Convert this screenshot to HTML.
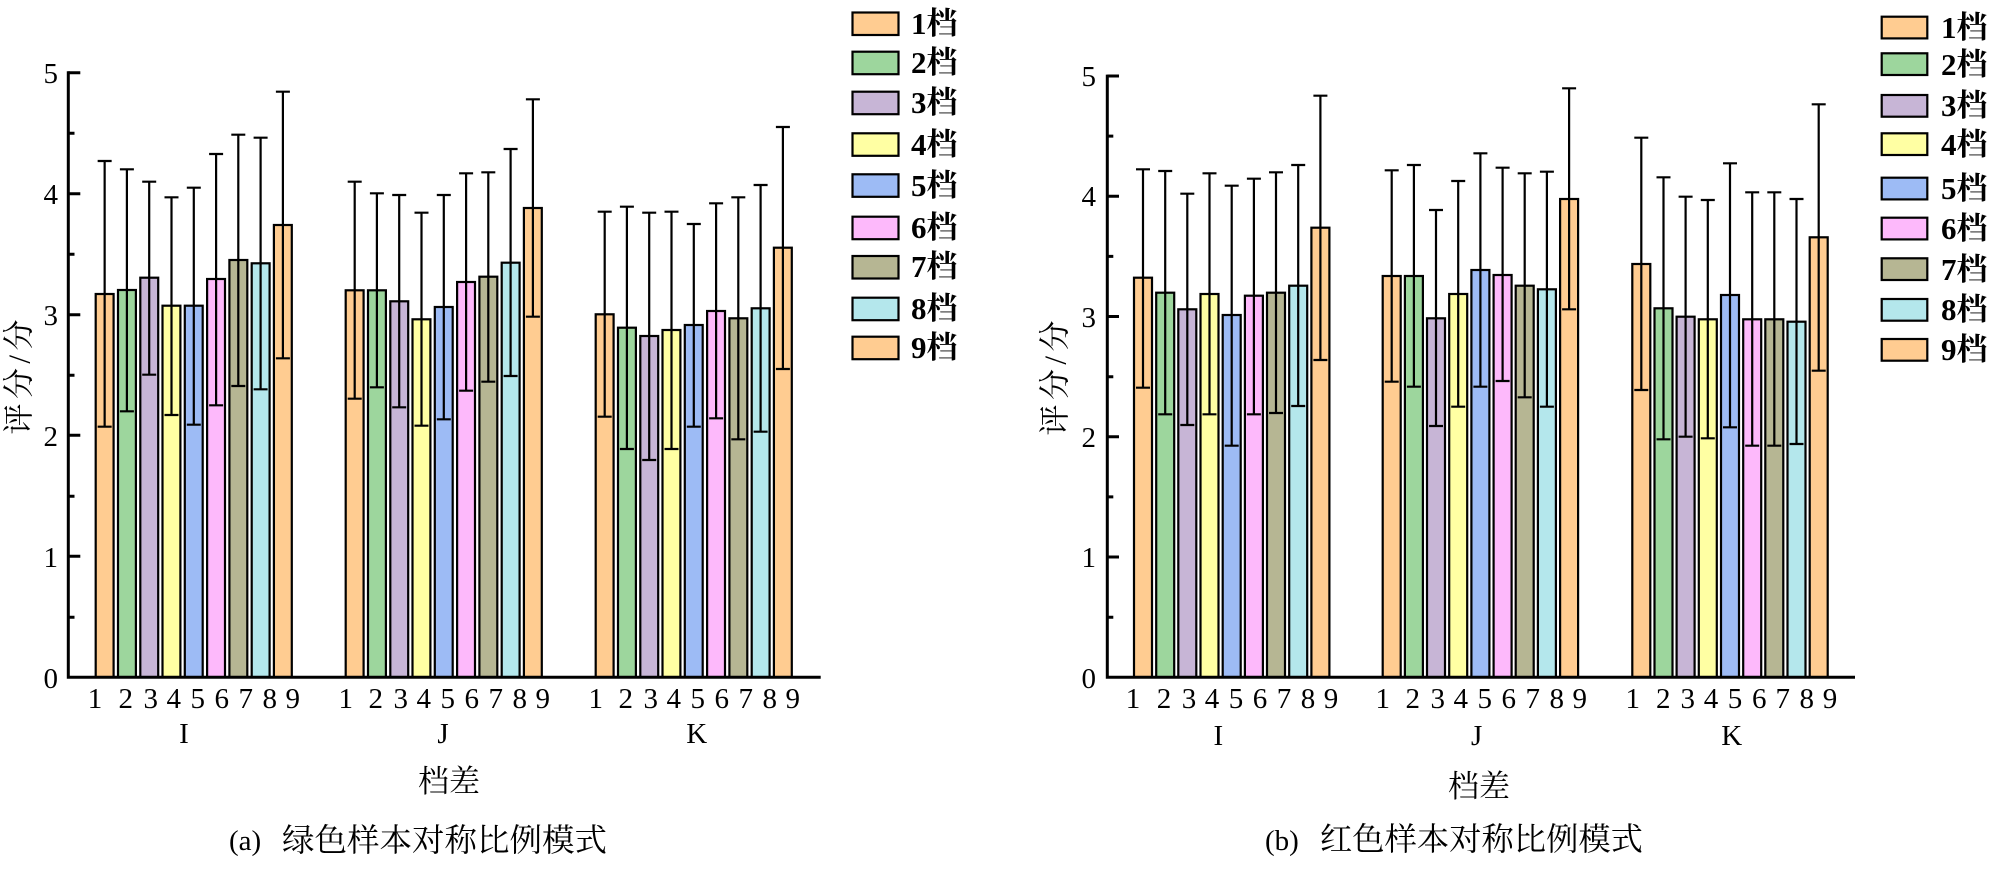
<!DOCTYPE html>
<html><head><meta charset="utf-8"><style>
html,body{margin:0;padding:0;background:#fff;}
svg{display:block;}
.n{font-family:"Liberation Serif","Noto Serif CJK SC",serif;font-size:29px;fill:#000;}
.c{font-family:"Liberation Serif","Noto Serif CJK SC",serif;fill:#000;}
.lg{font-family:"Liberation Serif","Noto Serif CJK SC",serif;font-size:31px;font-weight:bold;fill:#000;}
</style></head><body>
<svg width="2000" height="872" viewBox="0 0 2000 872" xmlns="http://www.w3.org/2000/svg">
<rect width="2000" height="872" fill="#fff"/>
<defs>
<style>
.b{stroke:#000;stroke-width:2.2;}
.e{stroke:#000;stroke-width:2.2;fill:none;}
.c1{fill:#FFCC91}.c2{fill:#9DD69D}.c3{fill:#C7B5D6}.c4{fill:#FFFFA3}.c5{fill:#9DBBF5}.c6{fill:#FDB9FB}.c7{fill:#B6B693}.c8{fill:#B4E7EC}.c9{fill:#FFCC91}
</style>
</defs>

<!-- ============ LEFT CHART ============ -->
<rect class="b c1" x="95.7" y="294" width="17.9" height="383.3"/>
<rect class="b c2" x="118.0" y="290" width="17.9" height="387.3"/>
<rect class="b c3" x="140.3" y="277.7" width="17.9" height="399.6"/>
<rect class="b c4" x="162.5" y="305.7" width="17.9" height="371.6"/>
<rect class="b c5" x="184.8" y="305.7" width="17.9" height="371.6"/>
<rect class="b c6" x="207.1" y="279" width="17.9" height="398.3"/>
<rect class="b c7" x="229.4" y="260" width="17.9" height="417.3"/>
<rect class="b c8" x="251.7" y="263.3" width="17.9" height="414"/>
<rect class="b c9" x="273.9" y="225" width="17.9" height="452.3"/>
<rect class="b c1" x="345.7" y="290.3" width="17.9" height="387"/>
<rect class="b c2" x="368.0" y="290.3" width="17.9" height="387"/>
<rect class="b c3" x="390.3" y="301.3" width="17.9" height="376"/>
<rect class="b c4" x="412.5" y="319.3" width="17.9" height="358"/>
<rect class="b c5" x="434.8" y="307" width="17.9" height="370.3"/>
<rect class="b c6" x="457.1" y="282" width="17.9" height="395.3"/>
<rect class="b c7" x="479.4" y="276.7" width="17.9" height="400.6"/>
<rect class="b c8" x="501.7" y="262.7" width="17.9" height="414.6"/>
<rect class="b c9" x="523.9" y="208" width="17.9" height="469.3"/>
<rect class="b c1" x="595.7" y="314.3" width="17.9" height="363"/>
<rect class="b c2" x="618.0" y="327.7" width="17.9" height="349.6"/>
<rect class="b c3" x="640.3" y="336" width="17.9" height="341.3"/>
<rect class="b c4" x="662.5" y="330" width="17.9" height="347.3"/>
<rect class="b c5" x="684.8" y="325" width="17.9" height="352.3"/>
<rect class="b c6" x="707.1" y="311" width="17.9" height="366.3"/>
<rect class="b c7" x="729.4" y="318.3" width="17.9" height="359"/>
<rect class="b c8" x="751.7" y="308.3" width="17.9" height="369"/>
<rect class="b c9" x="773.9" y="247.7" width="17.9" height="429.6"/>

<path class="e" d="
M97.65 161 H111.65 M104.65 161 V426.7 M97.65 426.7 H111.65
M119.9 169.3 H133.9 M126.9 169.3 V411.3 M119.9 411.3 H133.9
M142.2 181.7 H156.2 M149.2 181.7 V374.7 M142.2 374.7 H156.2
M164.5 197.3 H178.5 M171.5 197.3 V415 M164.5 415 H178.5
M186.8 187.7 H200.8 M193.8 187.7 V424.7 M186.8 424.7 H200.8
M209.1 154 H223.1 M216.1 154 V405.3 M209.1 405.3 H223.1
M231.3 134.7 H245.3 M238.3 134.7 V386 M231.3 386 H245.3
M253.6 137.7 H267.6 M260.6 137.7 V389.3 M253.6 389.3 H267.6
M275.9 91.7 H289.9 M282.9 91.7 V358.3 M275.9 358.3 H289.9
M347.7 181.7 H361.7 M354.7 181.7 V398.7 M347.7 398.7 H361.7
M369.9 193.3 H383.9 M376.9 193.3 V387.3 M369.9 387.3 H383.9
M392.2 195 H406.2 M399.2 195 V407.3 M392.2 407.3 H406.2
M414.5 212.7 H428.5 M421.5 212.7 V425.7 M414.5 425.7 H428.5
M436.8 195 H450.8 M443.8 195 V419.3 M436.8 419.3 H450.8
M459.1 173.3 H473.1 M466.1 173.3 V390.7 M459.1 390.7 H473.1
M481.3 172.3 H495.3 M488.3 172.3 V381.7 M481.3 381.7 H495.3
M503.6 149 H517.6 M510.6 149 V376 M503.6 376 H517.6
M525.9 99.3 H539.9 M532.9 99.3 V316.7 M525.9 316.7 H539.9
M597.7 211.7 H611.7 M604.7 211.7 V416.7 M597.7 416.7 H611.7
M619.9 206.7 H633.9 M626.9 206.7 V449 M619.9 449 H633.9
M642.2 212.7 H656.2 M649.2 212.7 V460 M642.2 460 H656.2
M664.5 211.7 H678.5 M671.5 211.7 V449 M664.5 449 H678.5
M686.8 224 H700.8 M693.8 224 V426.7 M686.8 426.7 H700.8
M709.1 203.3 H723.1 M716.1 203.3 V418.3 M709.1 418.3 H723.1
M731.3 197.3 H745.3 M738.3 197.3 V439.3 M731.3 439.3 H745.3
M753.6 185 H767.6 M760.6 185 V431.7 M753.6 431.7 H767.6
M775.9 127 H789.9 M782.9 127 V369 M775.9 369 H789.9
"/>

<path d="M68.3 71.3 V677.3 H820.7" stroke="#000" stroke-width="3" fill="none"/>
<path d="M68.3 72.7 H80.3 M68.3 193.7 H80.3 M68.3 314.7 H80.3 M68.3 435.3 H80.3 M68.3 556.3 H80.3
M68.3 133.2 H74.5 M68.3 254.2 H74.5 M68.3 375.2 H74.5 M68.3 496.2 H74.5 M68.3 617.2 H74.5" stroke="#000" stroke-width="3" fill="none"/>
<g class="n" text-anchor="end">
<text x="58" y="83">5</text>
<text x="58" y="204">4</text>
<text x="58" y="325">3</text>
<text x="58" y="446">2</text>
<text x="58" y="567">1</text>
<text x="58" y="688">0</text>
</g>
<g class="n" text-anchor="middle">
<text x="95" y="708">1</text><text x="125.7" y="708">2</text><text x="150.7" y="708">3</text><text x="173.7" y="708">4</text><text x="197.7" y="708">5</text><text x="221.7" y="708">6</text><text x="245.7" y="708">7</text><text x="269.7" y="708">8</text><text x="292.7" y="708">9</text>
<text x="345.7" y="708">1</text><text x="375.7" y="708">2</text><text x="400.7" y="708">3</text><text x="423.7" y="708">4</text><text x="447.7" y="708">5</text><text x="471.7" y="708">6</text><text x="495.7" y="708">7</text><text x="519.7" y="708">8</text><text x="542.7" y="708">9</text>
<text x="595.7" y="708">1</text><text x="625.7" y="708">2</text><text x="650.7" y="708">3</text><text x="673.7" y="708">4</text><text x="697.7" y="708">5</text><text x="721.7" y="708">6</text><text x="745.7" y="708">7</text><text x="769.7" y="708">8</text><text x="792.7" y="708">9</text>
<text x="184" y="743">I</text>
<text x="443" y="743">J</text>
<text x="696.7" y="743">K</text>
</g>
<text class="c" x="449" y="792" font-size="31" text-anchor="middle">档差</text>
<text class="c" transform="translate(19,377) rotate(-90)" font-size="31" text-anchor="middle" dominant-baseline="central" textLength="115" lengthAdjust="spacing">评分/分</text>
<text class="c" x="229" y="850" font-size="29">(a)</text>
<text class="c" x="282" y="851" font-size="32" textLength="325" lengthAdjust="spacingAndGlyphs">绿色样本对称比例模式</text>

<rect class="b c1" x="852.5" y="12.5" width="46" height="22.5"/>
<rect class="b c2" x="852.5" y="51.7" width="46" height="22.5"/>
<rect class="b c3" x="852.5" y="91.7" width="46" height="22.5"/>
<rect class="b c4" x="852.5" y="133.3" width="46" height="22.5"/>
<rect class="b c5" x="852.5" y="174.3" width="46" height="22.5"/>
<rect class="b c6" x="852.5" y="216.7" width="46" height="22.5"/>
<rect class="b c7" x="852.5" y="256" width="46" height="22.5"/>
<rect class="b c8" x="852.5" y="297.7" width="46" height="22.5"/>
<rect class="b c9" x="852.5" y="336.7" width="46" height="22.5"/>
<g class="lg">
<text x="911" y="34">1档</text>
<text x="911" y="73">2档</text>
<text x="911" y="113">3档</text>
<text x="911" y="155">4档</text>
<text x="911" y="196">5档</text>
<text x="911" y="238">6档</text>
<text x="911" y="277">7档</text>
<text x="911" y="319">8档</text>
<text x="911" y="358">9档</text>
</g>

<!-- ============ RIGHT CHART ============ -->
<rect class="b c1" x="1134" y="277.7" width="18" height="399.6"/>
<rect class="b c2" x="1156.2" y="292.7" width="18" height="384.6"/>
<rect class="b c3" x="1178.3" y="309.3" width="18" height="368"/>
<rect class="b c4" x="1200.5" y="294" width="18" height="383.3"/>
<rect class="b c5" x="1222.7" y="315" width="18" height="362.3"/>
<rect class="b c6" x="1244.9" y="295.7" width="18" height="381.6"/>
<rect class="b c7" x="1267.0" y="292.7" width="18" height="384.6"/>
<rect class="b c8" x="1289.2" y="285.7" width="18" height="391.6"/>
<rect class="b c9" x="1311.4" y="227.7" width="18" height="449.6"/>
<rect class="b c1" x="1382.7" y="276" width="18" height="401.3"/>
<rect class="b c2" x="1404.9" y="276" width="18" height="401.3"/>
<rect class="b c3" x="1427.0" y="318.3" width="18" height="359"/>
<rect class="b c4" x="1449.2" y="294" width="18" height="383.3"/>
<rect class="b c5" x="1471.4" y="270" width="18" height="407.3"/>
<rect class="b c6" x="1493.6" y="275" width="18" height="402.3"/>
<rect class="b c7" x="1515.7" y="285.7" width="18" height="391.6"/>
<rect class="b c8" x="1537.9" y="289.3" width="18" height="388"/>
<rect class="b c9" x="1560.1" y="199" width="18" height="478.3"/>
<rect class="b c1" x="1632.3" y="264" width="18" height="413.3"/>
<rect class="b c2" x="1654.5" y="308.3" width="18" height="369"/>
<rect class="b c3" x="1676.6" y="316.7" width="18" height="360.6"/>
<rect class="b c4" x="1698.8" y="319.3" width="18" height="358"/>
<rect class="b c5" x="1721.0" y="295" width="18" height="382.3"/>
<rect class="b c6" x="1743.2" y="319.3" width="18" height="358"/>
<rect class="b c7" x="1765.3" y="319.3" width="18" height="358"/>
<rect class="b c8" x="1787.5" y="321.7" width="18" height="355.6"/>
<rect class="b c9" x="1809.7" y="237.3" width="18" height="440"/>

<path class="e" d="
M1136 169.3 H1150 M1143 169.3 V387.7 M1136 387.7 H1150
M1158.2 171 H1172.2 M1165.2 171 V414.3 M1158.2 414.3 H1172.2
M1180.3 193.7 H1194.3 M1187.3 193.7 V425 M1180.3 425 H1194.3
M1202.5 173.3 H1216.5 M1209.5 173.3 V414.3 M1202.5 414.3 H1216.5
M1224.7 185.7 H1238.7 M1231.7 185.7 V445.7 M1224.7 445.7 H1238.7
M1246.9 178.7 H1260.9 M1253.9 178.7 V414.3 M1246.9 414.3 H1260.9
M1269 172.3 H1283 M1276 172.3 V413 M1269 413 H1283
M1291.2 165 H1305.2 M1298.2 165 V406 M1291.2 406 H1305.2
M1313.4 95.7 H1327.4 M1320.4 95.7 V360 M1313.4 360 H1327.4
M1384.7 170.3 H1398.7 M1391.7 170.3 V381.7 M1384.7 381.7 H1398.7
M1406.9 165 H1420.9 M1413.9 165 V386.7 M1406.9 386.7 H1420.9
M1429 210 H1443 M1436 210 V426 M1429 426 H1443
M1451.2 181 H1465.2 M1458.2 181 V406.7 M1451.2 406.7 H1465.2
M1473.4 153.3 H1487.4 M1480.4 153.3 V386.7 M1473.4 386.7 H1487.4
M1495.6 167.7 H1509.6 M1502.6 167.7 V381 M1495.6 381 H1509.6
M1517.7 173.3 H1531.7 M1524.7 173.3 V397.3 M1517.7 397.3 H1531.7
M1539.9 171.7 H1553.9 M1546.9 171.7 V406.7 M1539.9 406.7 H1553.9
M1562.1 88.3 H1576.1 M1569.1 88.3 V309.3 M1562.1 309.3 H1576.1
M1634.3 137.7 H1648.3 M1641.3 137.7 V390 M1634.3 390 H1648.3
M1656.5 177.3 H1670.5 M1663.5 177.3 V439.3 M1656.5 439.3 H1670.5
M1678.6 196.7 H1692.6 M1685.6 196.7 V436.7 M1678.6 436.7 H1692.6
M1700.8 200 H1714.8 M1707.8 200 V438.3 M1700.8 438.3 H1714.8
M1723 163.3 H1737 M1730 163.3 V427.3 M1723 427.3 H1737
M1745.2 192.3 H1759.2 M1752.2 192.3 V445.7 M1745.2 445.7 H1759.2
M1767.3 192.3 H1781.3 M1774.3 192.3 V445.7 M1767.3 445.7 H1781.3
M1789.5 199 H1803.5 M1796.5 199 V444 M1789.5 444 H1803.5
M1811.7 104.3 H1825.7 M1818.7 104.3 V370.7 M1811.7 370.7 H1825.7
"/>

<path d="M1107.3 74.6 V677.3 H1855" stroke="#000" stroke-width="3" fill="none"/>
<path d="M1107.3 76 H1119 M1107.3 196.3 H1119 M1107.3 316.5 H1119 M1107.3 436.8 H1119 M1107.3 557 H1119
M1107.3 136.1 H1113.3 M1107.3 256.4 H1113.3 M1107.3 376.7 H1113.3 M1107.3 496.9 H1113.3 M1107.3 617.2 H1113.3" stroke="#000" stroke-width="3" fill="none"/>
<g class="n" text-anchor="end">
<text x="1096" y="86">5</text>
<text x="1096" y="206">4</text>
<text x="1096" y="327">3</text>
<text x="1096" y="447">2</text>
<text x="1096" y="567">1</text>
<text x="1096" y="688">0</text>
</g>
<g class="n" text-anchor="middle">
<text x="1133" y="708">1</text><text x="1164" y="708">2</text><text x="1189" y="708">3</text><text x="1212" y="708">4</text><text x="1236" y="708">5</text><text x="1260" y="708">6</text><text x="1284" y="708">7</text><text x="1308" y="708">8</text><text x="1331" y="708">9</text>
<text x="1382.7" y="708">1</text><text x="1412.7" y="708">2</text><text x="1437.7" y="708">3</text><text x="1460.7" y="708">4</text><text x="1484.7" y="708">5</text><text x="1508.7" y="708">6</text><text x="1532.7" y="708">7</text><text x="1556.7" y="708">8</text><text x="1579.7" y="708">9</text>
<text x="1632.7" y="708">1</text><text x="1663.3" y="708">2</text><text x="1687.7" y="708">3</text><text x="1711" y="708">4</text><text x="1735" y="708">5</text><text x="1759.3" y="708">6</text><text x="1782.7" y="708">7</text><text x="1806.7" y="708">8</text><text x="1830" y="708">9</text>
<text x="1218.3" y="745">I</text>
<text x="1476.7" y="745">J</text>
<text x="1731.7" y="745">K</text>
</g>
<text class="c" x="1479" y="797" font-size="31" text-anchor="middle">档差</text>
<text class="c" transform="translate(1055,378) rotate(-90)" font-size="31" text-anchor="middle" dominant-baseline="central" textLength="115" lengthAdjust="spacing">评分/分</text>
<text class="c" x="1265" y="850" font-size="29">(b)</text>
<text class="c" x="1320" y="850" font-size="32" textLength="323" lengthAdjust="spacingAndGlyphs">红色样本对称比例模式</text>

<rect class="b c1" x="1881.7" y="16.7" width="45.6" height="21.7"/>
<rect class="b c2" x="1881.7" y="53.3" width="45.6" height="21.7"/>
<rect class="b c3" x="1881.7" y="95" width="45.6" height="21.7"/>
<rect class="b c4" x="1881.7" y="133.3" width="45.6" height="21.7"/>
<rect class="b c5" x="1881.7" y="177.7" width="45.6" height="21.7"/>
<rect class="b c6" x="1881.7" y="217.7" width="45.6" height="21.7"/>
<rect class="b c7" x="1881.7" y="258.3" width="45.6" height="21.7"/>
<rect class="b c8" x="1881.7" y="299" width="45.6" height="21.7"/>
<rect class="b c9" x="1881.7" y="339" width="45.6" height="21.7"/>
<g class="lg">
<text x="1941" y="38">1档</text>
<text x="1941" y="75">2档</text>
<text x="1941" y="116">3档</text>
<text x="1941" y="155">4档</text>
<text x="1941" y="199">5档</text>
<text x="1941" y="239">6档</text>
<text x="1941" y="280">7档</text>
<text x="1941" y="320">8档</text>
<text x="1941" y="360">9档</text>
</g>
</svg>
</body></html>
